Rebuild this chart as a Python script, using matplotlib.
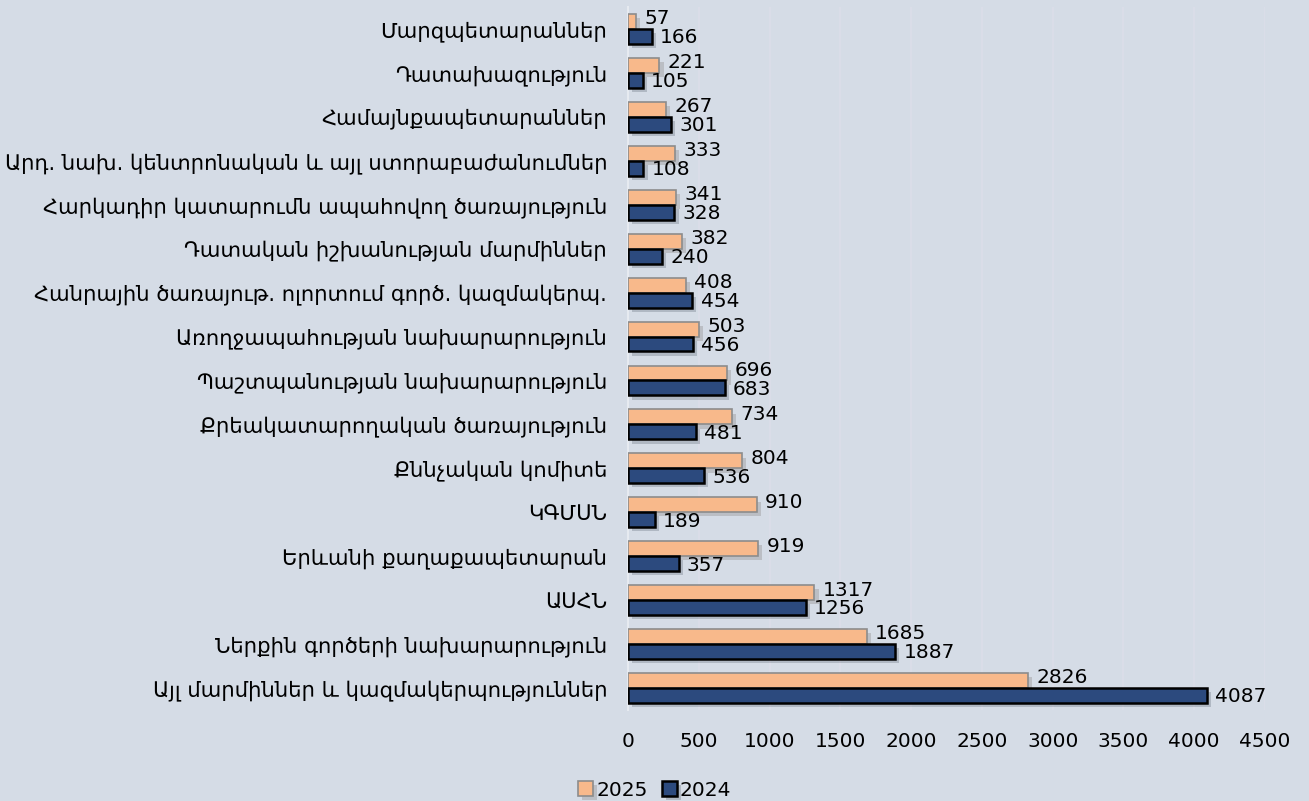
import matplotlib.pyplot as plt
import matplotlib.patheffects as pe
import numpy as np

# categories top -> bottom as in the source chart
categories = [
    "Մարզպետարաններ",
    "Դատախազություն",
    "Համայնքապետարաններ",
    "Արդ. նախ. կենտրոնական և այլ ստորաբաժանումներ",
    "Հարկադիր կատարումն ապահովող ծառայություն",
    "Դատական իշխանության մարմիններ",
    "Հանրային ծառայութ. ոլորտում գործ. կազմակերպ.",
    "Առողջապահության նախարարություն",
    "Պաշտպանության նախարարություն",
    "Քրեակատարողական ծառայություն",
    "Քննչական կոմիտե",
    "ԿԳՄՍՆ",
    "Երևանի քաղաքապետարան",
    "ԱՍՀՆ",
    "Ներքին գործերի նախարարություն",
    "Այլ մարմիններ և կազմակերպություններ",
]
values_2025 = [57, 221, 267, 333, 341, 382, 408, 503, 696, 734, 804, 910, 919, 1317, 1685, 2826]
values_2024 = [166, 105, 301, 108, 328, 240, 454, 456, 683, 481, 536, 189, 357, 1256, 1887, 4087]
x_ticks = [0, 500, 1000, 1500, 2000, 2500, 3000, 3500, 4000, 4500]

BG = "#d5dce6"
ORANGE = "#f8b98b"
NAVY = "#2c4a7e"

plt.rcParams["font.family"] = ["DejaVu Sans"]

fig = plt.figure(figsize=(13.09, 8.01), dpi=100, facecolor=BG)
ax = fig.add_axes([0.4798, 0.1136, 0.4866, 0.8777])
ax.set_facecolor(BG)

n = len(categories)
y = np.arange(n)[::-1]
h = 0.34

shadow = [pe.SimplePatchShadow(offset=(3, -3), alpha=0.18), pe.Normal()]
b25 = ax.barh(y + h / 2, values_2025, height=h, color=ORANGE,
              edgecolor="#8c8c8c", linewidth=1.2, label="2025", zorder=3)
b24 = ax.barh(y - h / 2, values_2024, height=h, color=NAVY,
              edgecolor="black", linewidth=1.8, label="2024", zorder=3)
for bar in list(b25) + list(b24):
    bar.set_path_effects(shadow)

for yy, v in zip(y, values_2025):
    ax.annotate(str(v), (v, yy + h / 2 + 0.06), xytext=(6, 0),
                textcoords="offset points", va="center", ha="left",
                fontsize=14.5, color="black", zorder=5)
for yy, v in zip(y, values_2024):
    ax.annotate(str(v), (v, yy - h / 2 - 0.03), xytext=(6, 0),
                textcoords="offset points", va="center", ha="left",
                fontsize=14.5, color="black", zorder=5)

ax.set_xlim(0, 4500)
ax.set_ylim(-0.5, n - 0.5)
ax.set_xticks(x_ticks)
ax.set_xticklabels([str(t) for t in x_ticks], fontsize=14.5)
ax.set_yticks(y)
ax.set_yticklabels(categories, fontsize=15.2)
ax.tick_params(axis="both", length=0)
ax.tick_params(axis="x", pad=16)
ax.tick_params(axis="y", pad=15)

ax.grid(axis="x", color="#dcdee9", linewidth=1.2, zorder=0)
ax.set_axisbelow(True)
for side in ["top", "right", "bottom"]:
    ax.spines[side].set_visible(False)
ax.spines["left"].set_color("#e6eaf0")
ax.spines["left"].set_linewidth(1.5)

ax.legend(loc="center", bbox_to_anchor=(0.5 * 1309 / 637 - 628 / 637, -0.114),
          ncol=2, frameon=False, fontsize=14.5, handlelength=0.75, handleheight=0.75,
          handletextpad=0.15, columnspacing=0.7, borderpad=0.1)

fig.savefig("out.png", dpi=100, facecolor=BG)
